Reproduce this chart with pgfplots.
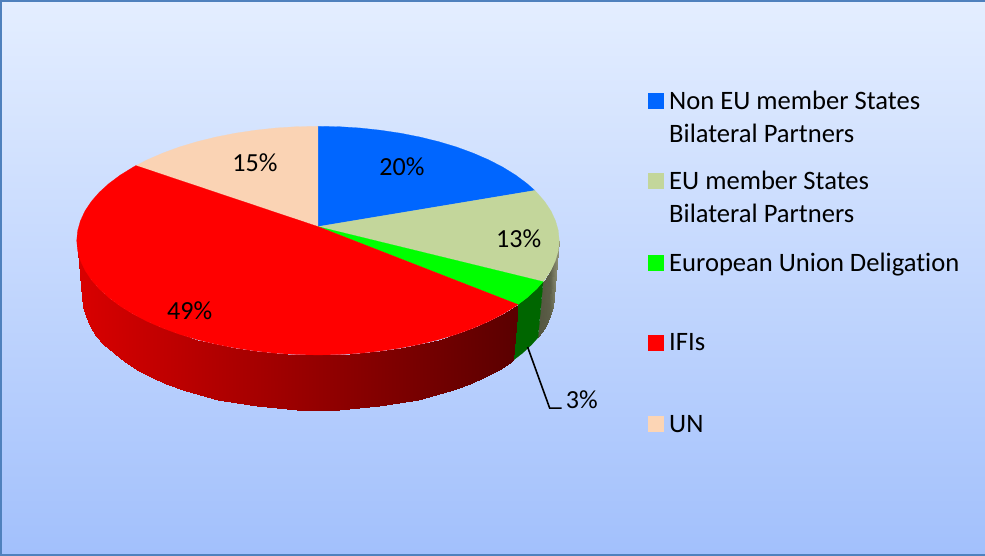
\documentclass[border=0pt]{standalone}
\usepackage{fontspec}
\setmainfont[Ligatures=NoCommon]{Carlito}
\usepackage{pgfplots}
\pgfplotsset{compat=1.18}
\definecolor{frameblue}{HTML}{4F81BD}
\definecolor{bgtop}{HTML}{E4EEFF}
\definecolor{bgbottom}{HTML}{A2C0FC}
\definecolor{sliceblue}{HTML}{0066FF}
\definecolor{sliceolive}{HTML}{C3D69B}
\definecolor{slicegreen}{HTML}{00FF00}
\definecolor{slicered}{HTML}{FF0000}
\definecolor{slicepeach}{HTML}{FAD3B4}
\definecolor{legpeach}{HTML}{FCD5B5}
\definecolor{wallgreen}{HTML}{006600}
\newcommand{\legendfont}{\fontsize{26.5}{30}\selectfont}
\newcommand{\sharefont}{\fontsize{26}{30}\selectfont}
\begin{document}
\begin{tikzpicture}
\begin{axis}[
  scale only axis, width=985pt, height=557pt,
  xmin=-1, xmax=984, ymin=-1, ymax=556, y dir=reverse,
  hide axis, clip=true,
  % wall shading along the horizontal position: red slice, then the olive slice
  colormap={walls}{rgb255(84pt)=(216,0,0) rgb255(518pt)=(90,0,0)
    rgb255(538pt)=(82,84,62) rgb255(550pt)=(92,94,72) rgb255(559pt)=(146,148,122)},
  point meta min=84, point meta max=559,
]
% chart area with its frame
\addplot[draw=frameblue, line width=2.4pt, top color=bgtop, bottom color=bgbottom]
  coordinates {(3.2,2.3) (1010,2.3) (1010,554.2) (3.2,554.2)} -- cycle;

% outer wall of the EU member States slice
\addplot[surf, shader=interp, mesh/rows=2, point meta=x] table {
x y
559.5 241
558.6 250.9
555.8 260.8
551.3 270.5
545 280
543.5 281.9
554 297
553.1 306.8
550.4 316.6
546 326.2
539.8 335.6
538.4 337.5
};
% outer wall of the European Union Deligation slice
\addplot[fill=wallgreen, draw=wallgreen, line width=0.2pt] coordinates {
(543.5,281.9) (537,289.2) (527.3,298) (518.4,304.7)
(513.8,360.2) (522.5,353.5) (532,344.8) (538.4,337.5)} -- cycle;
% outer wall of the IFIs slice
\addplot[surf, shader=interp, mesh/rows=2, point meta=x] table {
x y
518.4 304.7
516 306.4
503.2 314.3
489.1 321.6
473.6 328.3
457 334.4
439.3 339.7
420.6 344.3
401.3 348.1
381.2 351.1
360.8 353.3
340 354.6
319 355
298 354.6
277.2 353.3
256.8 351.1
236.7 348.1
217.4 344.3
198.7 339.7
181 334.4
164.4 328.3
148.9 321.6
134.8 314.3
122 306.4
110.7 298
101 289.2
93 280
86.7 270.5
82.2 260.8
79.4 250.9
78.5 241
513.8 360.2
511.5 361.8
499 369.6
485.2 376.9
470.1 383.6
453.8 389.6
436.5 394.9
418.3 399.4
399.4 403.2
379.8 406.1
359.8 408.3
339.5 409.6
319 410
298.5 409.6
278.2 408.3
258.2 406.1
238.6 403.2
219.7 399.4
201.5 394.9
184.2 389.6
167.9 383.6
152.8 376.9
139 369.6
126.5 361.8
115.5 353.5
106 344.8
98.2 335.6
92 326.2
87.6 316.6
84.9 306.8
84 297
};

% top faces of the five slices
\addplot[fill=sliceblue, draw=sliceblue, line width=0.2pt] coordinates {
(319,227) (319,127) (340,127.4) (360.8,128.7) (381.2,130.9) (401.3,133.9) (420.6,137.7)
(439.3,142.3) (457,147.6) (473.6,153.7) (489.1,160.4) (503.2,167.7) (516,175.6)
(527.3,184) (535.2,191)} -- cycle;
\addplot[fill=sliceolive, draw=sliceolive, line width=0.2pt] coordinates {
(319,227) (535.2,191) (537,192.8) (545,202) (551.3,211.5) (555.8,221.2) (558.6,231.1)
(559.5,241) (558.6,250.9) (555.8,260.8) (551.3,270.5) (545,280) (543.5,281.9)} -- cycle;
\addplot[fill=slicegreen, draw=slicegreen, line width=0.2pt] coordinates {
(319,227) (543.5,281.9) (537,289.2) (527.3,298) (518.4,304.7)} -- cycle;
\addplot[fill=slicepeach, draw=slicepeach, line width=0.2pt] coordinates {
(319,227) (137.5,166.2) (148.9,160.4) (164.4,153.7) (181,147.6) (198.7,142.3) (217.4,137.7)
(236.7,133.9) (256.8,130.9) (277.2,128.7) (298,127.4) (319,127)} -- cycle;
\addplot[fill=slicered, draw=slicered, line width=0.2pt] coordinates {
(319,227) (518.4,304.7) (516,306.4) (503.2,314.3) (489.1,321.6) (473.6,328.3) (457,334.4)
(439.3,339.7) (420.6,344.3) (401.3,348.1) (381.2,351.1) (360.8,353.3) (340,354.6)
(319,355) (298,354.6) (277.2,353.3) (256.8,351.1) (236.7,348.1) (217.4,344.3)
(198.7,339.7) (181,334.4) (164.4,328.3) (148.9,321.6) (134.8,314.3) (122,306.4)
(110.7,298) (101,289.2) (93,280) (86.7,270.5) (82.2,260.8) (79.4,250.9) (78.5,241)
(79.4,231.1) (82.2,221.2) (86.7,211.5) (93,202) (101,192.8) (110.7,184) (122,175.6)
(134.8,167.7) (137.5,166.2)} -- cycle;

% leader line of the 3% label
\addplot[black, line width=1.6pt] coordinates {(528,347) (550,408) (562,408)};

% legend keys
\addplot[only marks, mark=square*, mark size=7.4pt, mark options={solid, fill=sliceblue, draw=sliceblue, line width=0.1pt}] coordinates {(655.5,101.5)};
\addplot[only marks, mark=square*, mark size=7.4pt, mark options={solid, fill=sliceolive, draw=sliceolive, line width=0.1pt}] coordinates {(655.5,181.5)};
\addplot[only marks, mark=square*, mark size=7.4pt, mark options={solid, fill=slicegreen, draw=slicegreen, line width=0.1pt}] coordinates {(655.5,262.5)};
\addplot[only marks, mark=square*, mark size=7.4pt, mark options={solid, fill=slicered, draw=slicered, line width=0.1pt}] coordinates {(655.5,342.5)};
\addplot[only marks, mark=square*, mark size=7.4pt, mark options={solid, fill=legpeach, draw=legpeach, line width=0.1pt}] coordinates {(655.5,423.5)};

% legend texts
\begin{scope}[every node/.style={anchor=base west, inner sep=0pt, font=\legendfont}]
\node at (axis cs:669,110) {Non EU member States};
\node at (axis cs:669,143) {Bilateral Partners};
\node at (axis cs:669,190) {EU member States};
\node at (axis cs:669,223) {Bilateral Partners};
\node at (axis cs:669,271.5) {European Union Deligation};
\node at (axis cs:669,350.5) {IFIs};
\node at (axis cs:669,432) {UN};
\end{scope}
% slice shares
\begin{scope}[every node/.style={anchor=base west, inner sep=0pt, font=\sharefont}]
\node at (axis cs:380,176) {20\%};
\node at (axis cs:496.5,247.5) {13\%};
\node at (axis cs:566,408) {3\%};
\node at (axis cs:168.5,319.5) {49\%};
\node at (axis cs:233.5,172) {15\%};
\end{scope}
\end{axis}
\end{tikzpicture}
\end{document}
